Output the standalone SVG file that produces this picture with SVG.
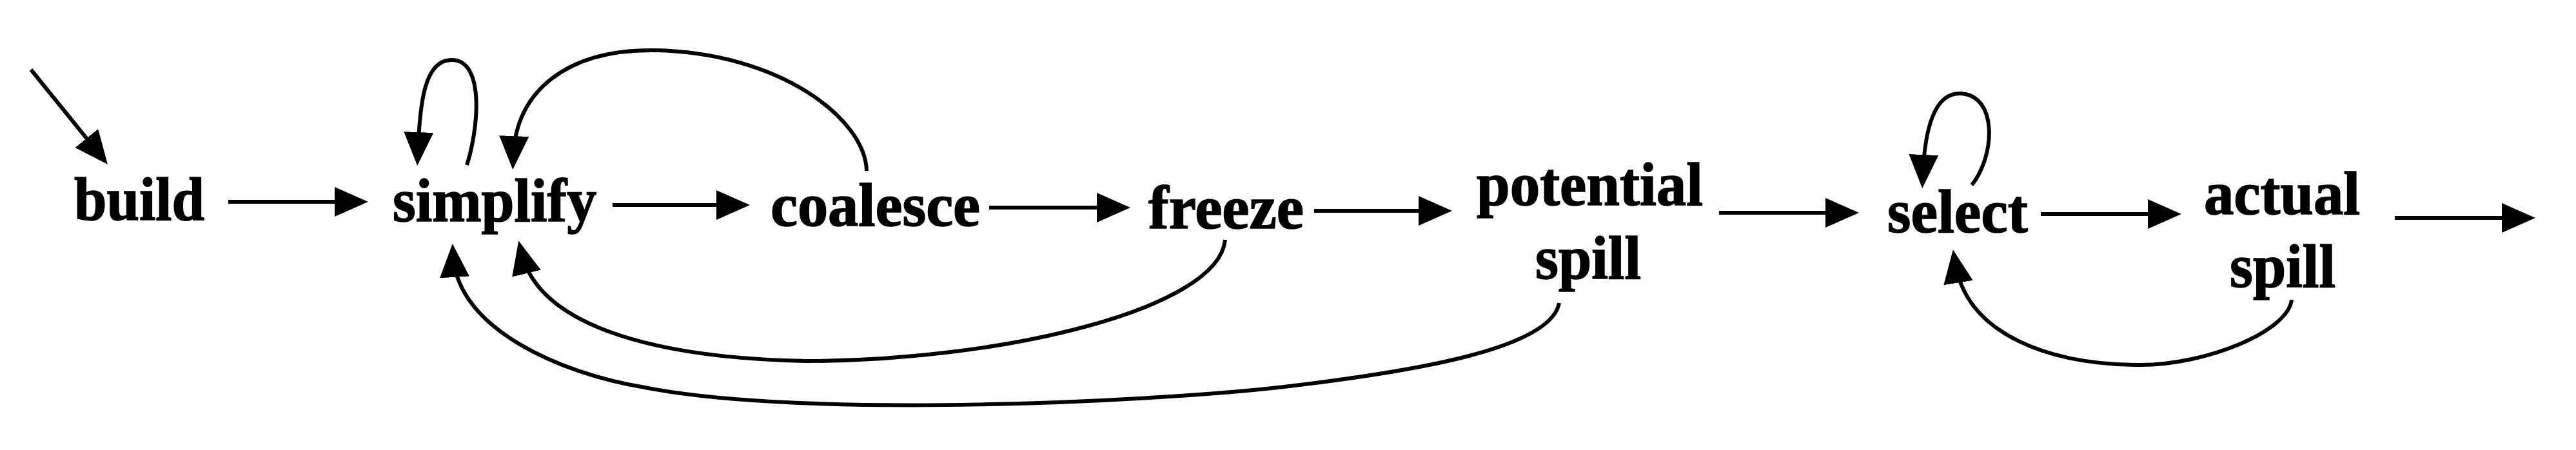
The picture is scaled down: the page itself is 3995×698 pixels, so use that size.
<svg xmlns="http://www.w3.org/2000/svg" width="3995" height="698" viewBox="0 0 3995 698">
<style>
.lbl{font-family:"Liberation Serif","Times New Roman",serif;font-weight:bold;font-size:96px;fill:#000;stroke:#000;stroke-width:1.6px}
.edge{fill:none;stroke:#000;stroke-width:6;marker-end:url(#ah)}
</style>
<defs>
<marker id="ah" markerUnits="userSpaceOnUse" markerWidth="52" markerHeight="46" viewBox="0 0 52 46" refX="32" refY="23" orient="auto">
<path d="M0,0 L52,23 L0,46 z" fill="#000"/>
</marker>
</defs>
<rect width="3995" height="698" fill="#fff"/>
<g id="connectors">
<path class="edge" d="M48,108 L154.4,239.4"/>
<path class="edge" d="M354,313 H551"/>
<path class="edge" d="M950,318 H1143"/>
<path class="edge" d="M1534,322 H1733"/>
<path class="edge" d="M2038,327 H2232"/>
<path class="edge" d="M2666,330 H2863"/>
<path class="edge" d="M3165,332 H3363"/>
<path class="edge" d="M3714,338 H3912"/>
<path class="edge" d="M724,256 C742,200 752,95 702,93 C658,91 651,160 648,237"/>
<path class="edge" d="M1344,265 C1342,185 1210,80 1010,78 C880,78 800,140 796,243"/>
<path class="edge" d="M1900,372 C1890,480 1550,560 1250,560 C1000,555 835,500 809,393"/>
<path class="edge" d="M2418,470 C2405,540 2200,575 2000,599 C1800,623 1250,650 1000,601 C870,580 710,510 703,398"/>
<path class="edge" d="M3058,287 C3095,240 3098,147 3040,145 C3000,144 2985,200 2982,272"/>
<path class="edge" d="M3554,465 C3548,515 3420,566 3320,566 C3180,566 3050,520 3032,407"/>
</g>
<g id="build"><text class="lbl" x="115" y="341" textLength="202" lengthAdjust="spacingAndGlyphs">build</text></g>
<g id="simplify"><text class="lbl" x="609" y="343" textLength="316" lengthAdjust="spacingAndGlyphs">simplify</text></g>
<g id="coalesce"><text class="lbl" x="1195" y="350" textLength="325" lengthAdjust="spacingAndGlyphs">coalesce</text></g>
<g id="freeze"><text class="lbl" x="1781" y="354" textLength="241" lengthAdjust="spacingAndGlyphs">freeze</text></g>
<g id="potential-spill">
<text class="lbl" x="2290" y="318" textLength="351" lengthAdjust="spacingAndGlyphs">potential</text>
<text class="lbl" x="2381" y="432" textLength="164" lengthAdjust="spacingAndGlyphs">spill</text>
</g>
<g id="select"><text class="lbl" x="2927" y="360" textLength="218" lengthAdjust="spacingAndGlyphs">select</text></g>
<g id="actual-spill">
<text class="lbl" x="3418" y="332" textLength="242" lengthAdjust="spacingAndGlyphs">actual</text>
<text class="lbl" x="3458" y="445" textLength="164" lengthAdjust="spacingAndGlyphs">spill</text>
</g>
</svg>
